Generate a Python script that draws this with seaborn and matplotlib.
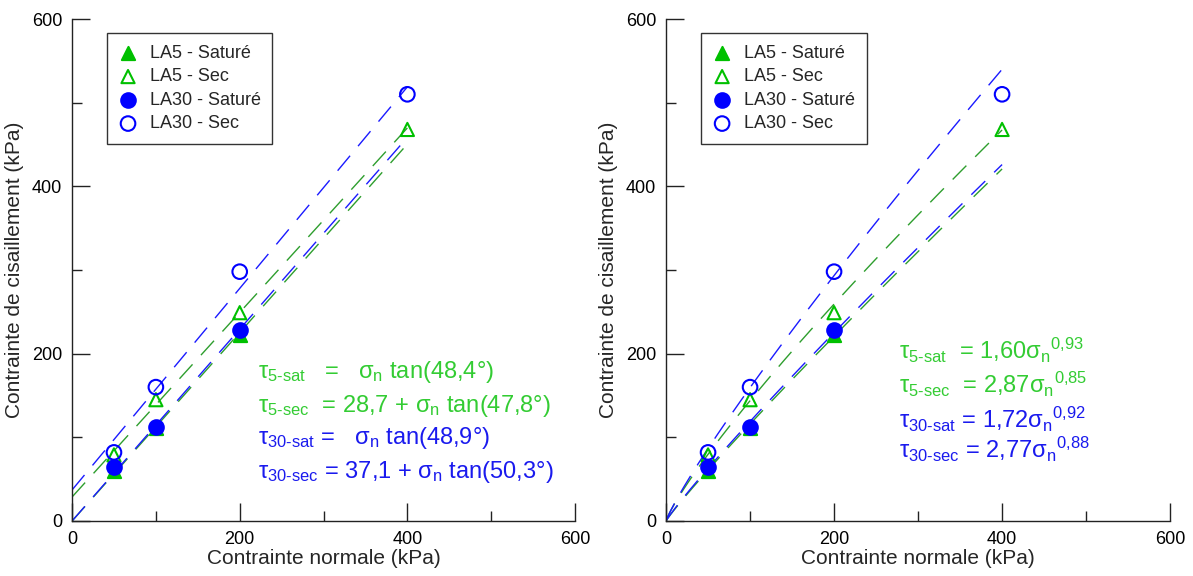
#!/usr/bin/env python3
import numpy as np
import pandas as pd
import seaborn as sns
import matplotlib.pyplot as plt
from matplotlib.ticker import MultipleLocator

# measured points (normal stress -> shear stress, kPa)
sigma_n = [50, 100, 200, 400]
la5_sat = [60, 111, 222, np.nan]
la5_sec = [79, 145, 249, 468]
la30_sat = [65, 112, 228, np.nan]
la30_sec = [82, 160, 298, 510]

series = ["LA5 - Saturé", "LA5 - Sec", "LA30 - Saturé", "LA30 - Sec"]

# Mohr-Coulomb fits (cohesion, friction angle) - left panel
coh = [0.0, 28.7, 0.0, 37.1]
phi = [48.4, 47.8, 48.9, 50.3]
# power-law fits (a, b) - right panel
pw_a = [1.60, 2.87, 1.72, 2.77]
pw_b = [0.93, 0.85, 0.92, 0.88]

eq_left = [
    "τ$_{\\mathrm{5\\text{-}sat}}$   =   σ$_{\\mathrm{n}}$ tan(48,4°)",
    "τ$_{\\mathrm{5\\text{-}sec}}$  = 28,7 + σ$_{\\mathrm{n}}$ tan(47,8°)",
    "τ$_{\\mathrm{30\\text{-}sat}}$ =   σ$_{\\mathrm{n}}$ tan(48,9°)",
    "τ$_{\\mathrm{30\\text{-}sec}}$ = 37,1 + σ$_{\\mathrm{n}}$ tan(50,3°)",
]
eq_right = [
    "τ$_{\\mathrm{5\\text{-}sat}}$  = 1,60σ$_{\\mathrm{n}}$$^{\\mathrm{0{,}93}}$",
    "τ$_{\\mathrm{5\\text{-}sec}}$  = 2,87σ$_{\\mathrm{n}}$$^{\\mathrm{0{,}85}}$",
    "τ$_{\\mathrm{30\\text{-}sat}}$ = 1,72σ$_{\\mathrm{n}}$$^{\\mathrm{0{,}92}}$",
    "τ$_{\\mathrm{30\\text{-}sec}}$ = 2,77σ$_{\\mathrm{n}}$$^{\\mathrm{0{,}88}}$",
]

sns.set_theme(style="ticks")
plt.rcParams["font.family"] = ["Liberation Sans", "DejaVu Sans"]
plt.rcParams["mathtext.fontset"] = "custom"
plt.rcParams["mathtext.rm"] = "Liberation Sans"
plt.rcParams["mathtext.it"] = "Liberation Sans:italic"
plt.rcParams["xtick.direction"] = "in"
plt.rcParams["ytick.direction"] = "in"

mk_green = "#00c000"
mk_blue = "#0000ff"
ln_green = "#2e9e2e"
ln_blue = "#1a1aff"
tx_green = "#33cc33"
tx_blue = "#1a1aee"

styles = {
    "LA5 - Saturé": dict(marker="^", fc=mk_green, ec=mk_green, s=90),
    "LA5 - Sec": dict(marker="^", fc="none", ec=mk_green, s=90),
    "LA30 - Saturé": dict(marker="o", fc=mk_blue, ec=mk_blue, s=110),
    "LA30 - Sec": dict(marker="o", fc="none", ec=mk_blue, s=110),
}
line_cols = [ln_green, ln_green, ln_blue, ln_blue]
text_cols = [tx_green, tx_green, tx_blue, tx_blue]

pts = pd.DataFrame({
    "sigma": sigma_n * 4,
    "tau": la5_sat + la5_sec + la30_sat + la30_sec,
    "serie": np.repeat(series, len(sigma_n)),
})

fig = plt.figure(figsize=(11.93, 5.76), dpi=100)
ax1 = fig.add_axes([0.0604, 0.0955, 0.4216, 0.8715])
ax2 = fig.add_axes([0.5583, 0.0955, 0.4225, 0.8715])

xs = np.linspace(0.5, 400, 400)

for ax, kind in [(ax1, "lin"), (ax2, "pow")]:
    for i in range(4):
        if kind == "lin":
            fx = np.array([0, 400])
            fy = coh[i] + fx * np.tan(np.radians(phi[i]))
        else:
            fx = np.concatenate([[0], xs])
            fy = pw_a[i] * fx ** pw_b[i]
        sns.lineplot(x=fx, y=fy, ax=ax, color=line_cols[i], lw=1.0,
                     dashes=False, linestyle=(0, (14, 9)), zorder=2)
    for name in series:
        st = styles[name]
        sub = pts[pts["serie"] == name]
        sns.scatterplot(data=sub, x="sigma", y="tau", ax=ax, marker=st["marker"],
                        s=st["s"], facecolor=st["fc"], edgecolor=st["ec"],
                        linewidth=1.5, label=name, zorder=3)

    ax.set_xlim(0, 600)
    ax.set_ylim(0, 600)
    ax.xaxis.set_major_locator(MultipleLocator(200))
    ax.yaxis.set_major_locator(MultipleLocator(200))
    ax.xaxis.set_minor_locator(MultipleLocator(100))
    ax.yaxis.set_minor_locator(MultipleLocator(100))
    ax.tick_params(which="both", direction="in", colors="#222222")
    ax.tick_params(which="major", length=13, width=1.0, labelsize=13, pad=7,
                   labelcolor="black")
    ax.tick_params(which="minor", length=7, width=1.0)
    sns.despine(ax=ax)
    for sp in ["left", "bottom"]:
        ax.spines[sp].set_linewidth(1.0)
        ax.spines[sp].set_color("#222222")
    ax.set_xlabel("Contrainte normale (kPa)", fontsize=15, labelpad=1)
    ax.set_ylabel("Contrainte de cisaillement (kPa)", fontsize=15, labelpad=6)
    leg = ax.legend(loc="upper left", bbox_to_anchor=(0.07, 0.972), fontsize=13,
                    frameon=True, fancybox=False, edgecolor="black",
                    borderaxespad=0, handlelength=1.0, handletextpad=0.7,
                    labelspacing=0.36, borderpad=0.65, markerscale=1.0)
    leg.get_frame().set_linewidth(1.0)

eq_y_left = [171, 130, 92, 51]
for txt, y, c in zip(eq_left, eq_y_left, text_cols):
    ax1.text(222, y, txt, color=c, fontsize=17, va="baseline", ha="left")

eq_y_right = [194, 153, 111, 75]
for txt, y, c in zip(eq_right, eq_y_right, text_cols):
    ax2.text(277, y, txt, color=c, fontsize=17, va="baseline", ha="left")

fig.savefig("out.png", dpi=100)
plt.close(fig)
